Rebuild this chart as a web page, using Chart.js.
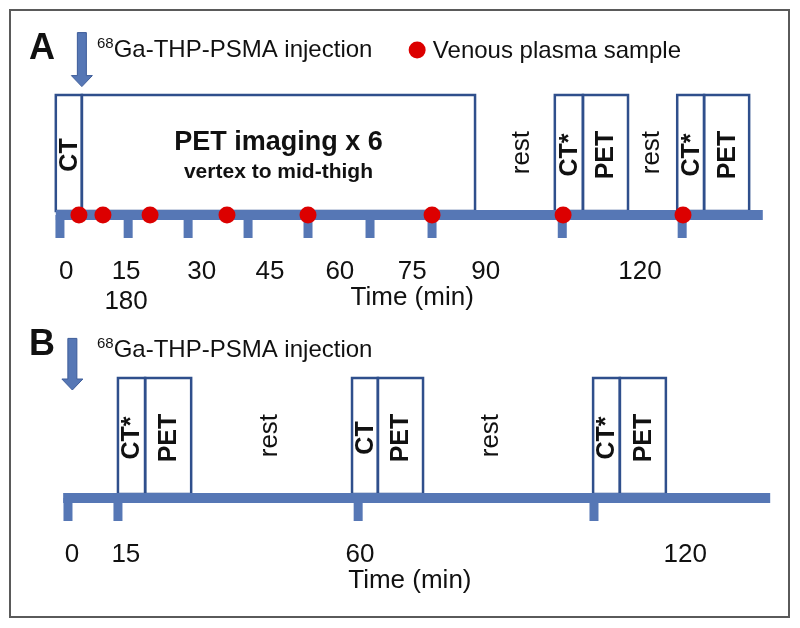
<!DOCTYPE html>
<html>
<head>
<meta charset="utf-8">
<script src="https://cdn.jsdelivr.net/npm/chart.js@4"></script>
<style>
  html, body { margin: 0; padding: 0; background: #fff; }
  canvas { display: block; }
</style>
</head>
<body>
<canvas id="timelineChart" width="800" height="628"></canvas>
<script>
// Panel A, times in min
const timelineA = [-1, 170];
const tickTimesA = [0, 16.5, 31, 45.5, 60, 75, 90, 121.5, 150.5];
const tickLabelsA = ['0', '15', '30', '45', '60', '75', '90', '120'];
const tickLabelPosA = [1.5, 16, 34.3, 50.8, 67.7, 85.2, 103, 140.3];
const tickLabels2A = ['180'];
const tickLabelPos2A = [16];
const sampleTimesA = [4.6, 10.4, 21.8, 40.4, 60, 90, 121.7, 150.7];
const scanLabelsA = ['CT', 'PET imaging x 6', 'CT*', 'PET', 'CT*', 'PET'];
const scanStartA = [-1, 5.3, 119.7, 126.5, 149.3, 155.8];
const scanEndA = [5.3, 100.4, 126.5, 137.4, 155.8, 166.7];
const restTimesA = [111.8, 143.2];
const injectionA = 5.3;

// Panel B
const timelineB = [-1.1, 160.2];
const tickTimesB = [0, 11.4, 66.2, 120];
const tickLabelsB = ['0', '15', '60', '120'];
const tickLabelPosB = [0.9, 13.2, 66.6, 140.8];
const scanLabelsB = ['CT*', 'PET', 'CT', 'PET', 'CT*', 'PET'];
const scanStartB = [11.4, 17.6, 64.8, 70.7, 119.8, 125.9];
const scanEndB = [17.6, 28.1, 70.7, 81.0, 125.9, 136.4];
const restTimesB = [46.1, 96.5];
const injectionB = 1.0;

const blue = '#5677b5';
const navy = '#2f4f8c';
const red = '#dc0000';
const ink = '#111';
const FONT = '"Liberation Sans", Arial, sans-serif';

const panels = [
    { xId: 'xa', yId: 'ya', letter: 'A', ticks: tickTimesA, labels: tickLabelsA, labelPos: tickLabelPosA,
      labels2: tickLabels2A, labelPos2: tickLabelPos2A, names: scanLabelsA, starts: scanStartA, ends: scanEndA,
      rest: restTimesA, injection: injectionA, arrowTop: 1.52, arrowTip: 1.07, textX: 8.96, textY: 1.39,
      letterY: 1.4, titleX: 85.2, legend: true },
    { xId: 'xb', yId: 'yb', letter: 'B', ticks: tickTimesB, labels: tickLabelsB, labelPos: tickLabelPosB,
      labels2: [], labelPos2: [], names: scanLabelsB, starts: scanStartB, ends: scanEndB,
      rest: restTimesB, injection: injectionB, arrowTop: 1.33, arrowTip: 0.9, textX: 6.62, textY: 1.25,
      letterY: 1.29, titleX: 78.0, legend: false }
];

function vText(ctx, text, x, y) {
    ctx.save();
    ctx.translate(x, y);
    ctx.rotate(-Math.PI / 2);
    ctx.fillText(text, 0, 0);
    ctx.restore();
}

function drawPanel(chart, ctx, p) {
    const xs = chart.scales[p.xId];
    const ys = chart.scales[p.yId];
    const y0 = ys.getPixelForValue(0);
    const yTop = ys.getPixelForValue(1);

    // tick marks hanging under the time bar
    ctx.fillStyle = blue;
    p.ticks.forEach(t => {
        const x = xs.getPixelForValue(t);
        ctx.fillRect(x - 4.5, y0, 9, 23);
    });

    // scan boxes
    ctx.strokeStyle = navy;
    ctx.lineWidth = 2.5;
    ctx.textAlign = 'center';
    ctx.textBaseline = 'middle';
    p.starts.forEach((s, i) => {
        const x0 = xs.getPixelForValue(s);
        const x1 = xs.getPixelForValue(p.ends[i]);
        ctx.strokeRect(x0, yTop, x1 - x0, y0 - 4 - yTop);
        ctx.fillStyle = ink;
        const cx = (x0 + x1) / 2;
        if (x1 - x0 > 100) {
            ctx.font = 'bold 27px ' + FONT;
            ctx.fillText(p.names[i], cx, ys.getPixelForValue(0.6));
            ctx.font = 'bold 21px ' + FONT;
            ctx.fillText('vertex to mid-thigh', cx, ys.getPixelForValue(0.36));
        } else {
            ctx.font = 'bold 25px ' + FONT;
            vText(ctx, p.names[i], cx + 1, ys.getPixelForValue(0.5));
        }
    });

    // rest periods
    ctx.font = '26px ' + FONT;
    p.rest.forEach(t => vText(ctx, 'rest', xs.getPixelForValue(t), ys.getPixelForValue(0.52)));

    // tick labels and axis title
    ctx.font = '26px ' + FONT;
    p.labels.forEach((l, i) => ctx.fillText(l, xs.getPixelForValue(p.labelPos[i]), y0 + 57));
    p.labels2.forEach((l, i) => ctx.fillText(l, xs.getPixelForValue(p.labelPos2[i]), y0 + 87));
    ctx.fillText('Time (min)', xs.getPixelForValue(p.titleX), y0 + 83);

    // panel letter
    ctx.textAlign = 'left';
    ctx.font = 'bold 36px ' + FONT;
    ctx.fillText(p.letter, 29, ys.getPixelForValue(p.letterY) + 2);

    // injection arrow
    const ax = xs.getPixelForValue(p.injection);
    const aTop = ys.getPixelForValue(p.arrowTop);
    const aTip = ys.getPixelForValue(p.arrowTip);
    ctx.beginPath();
    ctx.moveTo(ax - 4.5, aTop);
    ctx.lineTo(ax + 4.5, aTop);
    ctx.lineTo(ax + 4.5, aTip - 11);
    ctx.lineTo(ax + 10.5, aTip - 11);
    ctx.lineTo(ax, aTip);
    ctx.lineTo(ax - 10.5, aTip - 11);
    ctx.lineTo(ax - 4.5, aTip - 11);
    ctx.closePath();
    ctx.fillStyle = blue;
    ctx.fill();
    ctx.strokeStyle = '#3d5c99';
    ctx.lineWidth = 1;
    ctx.stroke();

    // injection text with superscript
    const tx = xs.getPixelForValue(p.textX);
    const base = ys.getPixelForValue(p.textY) + 8.5;
    ctx.fillStyle = ink;
    ctx.textBaseline = 'alphabetic';
    ctx.font = '15px ' + FONT;
    ctx.fillText('68', tx, base - 9);
    const supW = ctx.measureText('68').width;
    ctx.font = '24px ' + FONT;
    ctx.fillText('Ga-THP-PSMA injection', tx + supW, base);

    if (p.legend) {
        ctx.beginPath();
        ctx.arc(xs.getPixelForValue(86.4), ys.getPixelForValue(1.375), 8.5, 0, Math.PI * 2);
        ctx.fillStyle = red;
        ctx.fill();
        ctx.fillStyle = ink;
        ctx.textBaseline = 'middle';
        ctx.fillText('Venous plasma sample', xs.getPixelForValue(90.2), ys.getPixelForValue(1.375) + 1);
    }
}

const timelinePlugin = {
    id: 'timelinePanels',
    beforeDatasetsDraw(chart) {
        const ctx = chart.ctx;
        ctx.save();
        ctx.strokeStyle = '#5a5a5a';
        ctx.lineWidth = 2;
        ctx.strokeRect(10, 10, 779, 607);
        panels.forEach(p => drawPanel(chart, ctx, p));
        ctx.restore();
    }
};

const ctx = document.getElementById('timelineChart').getContext('2d');
const chart = new Chart(ctx, {
    type: 'scatter',
    data: {
        datasets: [{
            label: 'Venous plasma sample',
            data: sampleTimesA.map(t => ({ x: t, y: 0 })),
            xAxisID: 'xa',
            yAxisID: 'ya',
            pointRadius: 8.5,
            pointBackgroundColor: red,
            pointBorderWidth: 0,
            order: 0
        }, {
            label: 'Timeline A',
            data: timelineA.map(t => ({ x: t, y: 0 })),
            xAxisID: 'xa',
            yAxisID: 'ya',
            showLine: true,
            borderColor: blue,
            borderWidth: 10,
            borderCapStyle: 'butt',
            pointRadius: 0,
            order: 1
        }, {
            label: 'Timeline B',
            data: timelineB.map(t => ({ x: t, y: 0 })),
            xAxisID: 'xb',
            yAxisID: 'yb',
            showLine: true,
            borderColor: blue,
            borderWidth: 10,
            borderCapStyle: 'butt',
            pointRadius: 0,
            order: 1
        }]
    },
    options: {
        responsive: false,
        animation: false,
        layout: { padding: 0, autoPadding: false },
        plugins: {
            legend: { display: false },
            tooltip: { enabled: false }
        },
        scales: {
            xa: { type: 'linear', position: 'bottom', display: false, min: -14.5, max: 179 },
            ya: { type: 'linear', position: 'left', display: false, min: -3.4417, max: 1.7917 },
            xb: { type: 'linear', position: 'bottom', display: false, min: -15.51, max: 167.0 },
            yb: { type: 'linear', position: 'left', display: false, min: -1.0833, max: 4.15 }
        }
    },
    plugins: [timelinePlugin]
});
</script>
</body>
</html>
